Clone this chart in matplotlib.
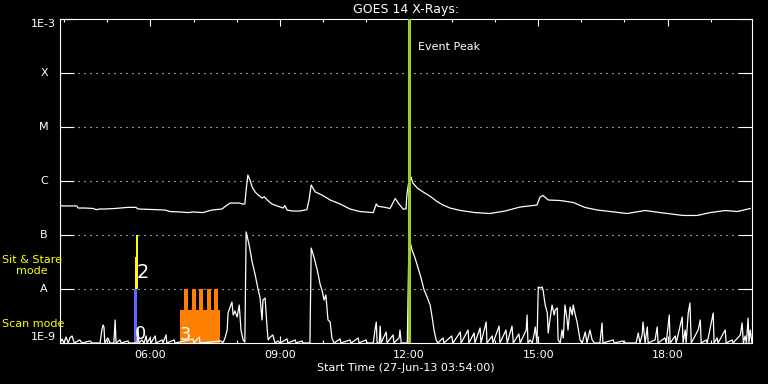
import matplotlib
matplotlib.use('Agg')
import matplotlib.pyplot as plt
import matplotlib.transforms as mtransforms
from matplotlib.ticker import NullLocator

# GOES 14 long channel (1-8 A): UT hours, flux in units of 1e-7 W/m^2
long_hours = [3.90, 3.95, 4.29, 4.32, 4.48, 4.67, 4.74, 4.83, 4.95, 5.18, 5.48, 5.66,
              5.71, 6.11, 6.34, 6.45, 6.69, 6.87, 6.99, 7.22, 7.34, 7.43, 7.66, 7.75,
              7.85, 8.06, 8.13, 8.19, 8.22, 8.26, 8.31, 8.36, 8.43, 8.50, 8.59, 8.64,
              8.71, 8.82, 8.94, 9.08, 9.12, 9.17, 9.29, 9.47, 9.63, 9.68, 9.73, 9.82,
              9.98, 10.17, 10.40, 10.63, 10.86, 11.17, 11.24, 11.28, 11.40, 11.56, 11.68,
              11.75, 11.86, 11.93, 11.95, 12.02, 12.09, 12.19, 12.33, 12.49, 12.65, 12.79,
              12.95, 13.19, 13.53, 13.88, 14.23, 14.58, 14.97, 15.04, 15.11, 15.23, 15.51,
              15.81, 16.09, 16.37, 16.67, 17.06, 17.48, 17.83, 18.36, 18.69, 18.99, 19.34,
              19.62, 19.92]
long_flux_e7 = [3.59, 3.45, 3.45, 3.16, 3.16, 3.10, 2.95, 3.03, 3.03, 3.10, 3.25, 3.25,
                3.03, 2.95, 2.90, 2.72, 2.67, 2.60, 2.67, 2.60, 2.78, 2.90, 3.03, 3.45,
                3.91, 3.91, 3.75, 3.75, 6.81, 12.9, 10.4, 7.74, 6.25, 5.50, 4.84, 5.10,
                4.45, 3.75, 3.45, 3.16, 3.50, 2.90, 2.78, 2.78, 2.95, 4.45, 8.43, 6.30,
                5.50, 4.45, 3.75, 3.03, 2.72, 2.60, 3.75, 3.40, 3.30, 3.10, 4.75,
                3.91, 3.03, 3.03, 5.50, 13.5, 9.18, 7.42, 6.25, 5.20, 4.17, 3.59,
                3.16, 2.85, 2.60, 2.50, 2.78, 3.30, 3.59, 5.05, 5.40, 4.45, 4.35,
                4.00, 3.23, 2.90, 2.72, 2.50, 2.84, 2.60, 2.30, 2.30, 2.60, 2.84,
                2.72, 3.10]

# GOES 14 short channel (0.5-4 A): UT hours, flux in units of 1e-9 W/m^2
short_hours = [3.90, 3.95, 3.99, 4.04, 4.09, 4.13, 4.18, 4.23, 4.36, 4.41, 4.60, 4.64,
               4.83, 4.87, 4.90, 4.92, 4.94, 5.01, 5.06, 5.15, 5.18, 5.20, 5.29, 5.32,
               5.48, 5.50, 5.69, 5.71, 5.73, 5.80, 5.85, 5.90, 5.92, 5.99, 6.01, 6.11,
               6.13, 6.27, 6.29, 6.36, 6.38, 6.55, 6.57, 6.99, 7.01, 7.13, 7.15, 7.64,
               7.68, 7.73, 7.78, 7.80, 7.85, 7.89, 7.92, 7.96, 8.01, 8.06, 8.10, 8.15,
               8.19, 8.22, 8.29, 8.36, 8.43, 8.50, 8.54, 8.59, 8.61, 8.66, 8.71, 8.73,
               8.78, 8.84, 8.89, 8.96, 9.01, 9.17, 9.19, 9.36, 9.38, 9.52, 9.54, 9.70,
               9.73, 9.80, 9.87, 9.94, 9.98, 10.03, 10.07, 10.12, 10.17, 10.21, 10.26,
               10.40, 10.42, 10.63, 10.66, 10.82, 10.84, 11.00, 11.03, 11.17, 11.21,
               11.24, 11.26, 11.31, 11.33, 11.35, 11.47, 11.49, 11.63, 11.65, 11.77,
               11.79, 11.82, 11.96, 12.00, 12.07, 12.14, 12.21, 12.28, 12.35, 12.42,
               12.49, 12.54, 12.58, 12.63, 12.67, 12.79, 12.81, 12.99, 13.02, 13.19,
               13.21, 13.37, 13.39, 13.51, 13.53, 13.65, 13.67, 13.79, 13.81, 13.93,
               13.95, 14.09, 14.11, 14.25, 14.28, 14.39, 14.42, 14.55, 14.58, 14.72,
               14.74, 14.76, 14.81, 14.86, 14.90, 14.93, 14.97, 15.00, 15.04, 15.09,
               15.11, 15.16, 15.21, 15.23, 15.27, 15.32, 15.37, 15.39, 15.44, 15.46,
               15.51, 15.55, 15.58, 15.62, 15.67, 15.69, 15.74, 15.79, 15.81, 15.86,
               15.90, 15.95, 15.97, 16.02, 16.09, 16.13, 16.20, 16.25, 16.30, 16.43,
               16.48, 16.50, 16.74, 16.76, 16.97, 16.99, 17.27, 17.32, 17.36, 17.41,
               17.43, 17.48, 17.53, 17.55, 17.71, 17.76, 17.78, 17.94, 17.97, 18.04,
               18.06, 18.18, 18.20, 18.34, 18.36, 18.41, 18.43, 18.48, 18.52, 18.55,
               18.71, 18.76, 18.78, 18.90, 18.92, 19.06, 19.08, 19.15, 19.17, 19.34,
               19.36, 19.50, 19.52, 19.69, 19.73, 19.76, 19.80, 19.83, 19.87, 19.89,
               19.92, 19.96]
short_flux_e9 = [1.0, 1.19, 1.0, 1.29, 1.0, 1.24, 1.35, 1.0, 1.14, 1.0, 1.09, 1.0,
                 1.0, 1.74, 2.15, 1.98, 1.0, 1.24, 1.0, 1.0, 2.67, 1.0, 1.14, 1.0,
                 1.09, 1.0, 1.0, 1.90, 1.0, 1.14, 1.0, 1.35, 1.0, 1.24, 1.0, 1.35,
                 1.0, 1.14, 1.0, 1.41, 1.0, 1.14, 1.0, 1.19, 1.0, 1.29, 1.0, 1.09,
                 1.0, 1.24, 1.74, 3.59, 4.64, 5.74, 3.30, 3.91, 3.03, 5.05, 1.74, 1.14,
                 1.04, 114.0, 65.2, 31.6, 18.2, 9.58, 7.11, 2.67, 6.25, 6.81, 1.74, 1.14,
                 1.29, 1.41, 1.0, 1.09, 1.0, 1.19, 1.0, 1.14, 1.0, 1.09, 1.0, 1.0,
                 57.4, 37.5, 22.5, 11.9, 9.58, 6.25, 7.74, 2.67, 2.45, 1.24, 1.0,
                 1.19, 1.0, 1.14, 1.0, 1.24, 1.0, 1.14, 1.0, 1.0, 1.74,
                 2.45, 1.0, 1.0, 2.06, 1.0, 1.60, 1.0, 1.41, 1.0, 1.24,
                 1.74, 1.0, 1.0, 91.8, 52.7, 37.5, 24.5, 15.9, 9.58, 7.11,
                 5.05, 2.90, 1.74, 1.14, 1.0, 1.24, 1.0, 1.35, 1.0, 1.60,
                 1.0, 1.74, 1.0, 1.53, 1.0, 1.90, 1.0, 2.45, 1.0, 1.35,
                 1.0, 2.06, 1.0, 1.74, 1.0, 2.06, 1.0, 1.47, 1.0, 1.74,
                 3.30, 1.0, 1.14, 1.0, 1.41, 1.98, 1.0, 10.9, 10.4, 10.9,
                 9.58, 5.05, 3.59, 1.53, 2.67, 5.05, 3.30, 4.08, 4.45, 1.14,
                 1.0, 1.74, 1.24, 5.05, 2.67, 1.74, 4.64, 3.30, 5.05, 3.30,
                 2.45, 1.41, 1.14, 1.0, 1.60, 1.0, 1.74, 1.14, 1.0, 1.0,
                 2.35, 1.0, 1.14, 1.0, 1.09, 1.0, 1.0, 1.53, 1.0, 1.41,
                 2.45, 1.0, 1.98, 1.0, 1.14, 1.98, 1.0, 1.24, 1.0, 3.30,
                 1.0, 1.35, 1.0, 3.03, 1.0, 1.74, 1.0, 3.59, 5.50, 1.0,
                 1.74, 2.67, 1.0, 1.14, 1.0, 3.59, 1.0, 1.24, 1.0, 1.74,
                 1.0, 1.14, 1.0, 1.41, 2.35, 1.0, 1.35, 1.0, 2.90, 1.0,
                 1.74, 1.0]

level_flux = [1e-9, 1e-8, 1e-7, 1e-6, 1e-5, 1e-4, 1e-3]
level_names = ['1E-9', 'A', 'B', 'C', 'M', 'X', '1E-3']
hour_ticks = [6, 9, 12, 15, 18]
hour_labels = ['06:00', '09:00', '12:00', '15:00', '18:00']
start_hour = 3.9
end_hour = 19.96
event_peak_hour = 12.0

# observing modes
scan_hour = 5.65
stare_hour = 5.69
raster_start = 6.69
raster_end = 7.61
raster_top = 4.1e-9
raster_prongs = [6.82, 7.00, 7.17, 7.35, 7.52]

long_flux = [v * 1e-7 for v in long_flux_e7]
short_flux = [v * 1e-9 for v in short_flux_e9]

fig = plt.figure(figsize=(7.68, 3.84), dpi=100, facecolor='black')
ax = fig.add_axes([60 / 768, 41 / 384, 692 / 768, 324 / 384])
ax.set_facecolor('black')
ax.set_yscale('log')
ax.set_xlim(start_hour, end_hour)
ax.set_ylim(1e-9, 1e-3)

# grid lines at flare classes
for lev in level_flux[1:-1]:
    ax.axhline(lev, color='white', lw=0.8, ls=(0, (1, 4.4)), zorder=1)

# scan / sit & stare markers
ax.bar(scan_hour, 1e-8 - 1e-9, bottom=1e-9, width=0.07, color='#6464ff', zorder=2)
ax.bar(stare_hour, 1e-7 - 1e-8, bottom=1e-8, width=0.046, color='yellow', zorder=2)
ax.bar(stare_hour - 0.02, 3.96e-8 - 1e-8, bottom=1e-8, width=0.07, color='yellow', zorder=2)
ax.bar((raster_start + raster_end) / 2, raster_top - 1e-9, bottom=1e-9,
       width=raster_end - raster_start, color='#ff8000', zorder=2)
for p in raster_prongs:
    ax.bar(p, 1e-8 - 1e-9, bottom=1e-9, width=0.093, color='#ff8000', zorder=2)

ax.plot(long_hours, long_flux, color='white', lw=0.9, zorder=3)
ax.plot(short_hours, short_flux, color='white', lw=0.9, zorder=3)

ax.axvline(event_peak_hour, color='#9acd32', lw=2.2, zorder=4)
ax.text(event_peak_hour + 0.22, 3.0e-4, 'Event Peak', color='white', fontsize=8,
        va='center', ha='left')

num_font = ['Liberation Sans Narrow', 'DejaVu Sans']
ax.text(5.76, 1.45e-9, '0', color='white', fontsize=13, family=num_font,
        ha='center', va='center', zorder=5)
ax.text(5.83, 2.0e-8, '2', color='white', fontsize=14, family=num_font,
        ha='center', va='center', zorder=5)
ax.text(6.82, 1.4e-9, '3', color='white', fontsize=13, family=num_font,
        ha='center', va='center', zorder=5)

# axes styling
for s in ax.spines.values():
    s.set_color('white')
    s.set_linewidth(0.8)

ax.set_yticks(level_flux)
ax.set_yticklabels([])
ax.yaxis.set_minor_locator(NullLocator())
ax.tick_params(axis='y', which='major', direction='in', length=10, width=0.8,
               color='white', left=True, right=True)

ax.set_xticks(hour_ticks)
ax.set_xticklabels(hour_labels)
ax.set_xticks(range(4, 20), minor=True)
ax.tick_params(axis='x', which='major', direction='in', length=5, width=0.8,
               colors='white', top=True, labelsize=8, pad=5)
ax.tick_params(axis='x', which='minor', direction='in', length=2.5, width=0.8,
               color='white', top=True)

trans = mtransforms.blended_transform_factory(ax.transAxes, ax.transData)
for lev, name in zip(level_flux, level_names):
    if name == '1E-9':
        ax.text(-0.006, lev * 1.04, name, transform=trans, color='white', fontsize=8,
                ha='right', va='bottom')
    elif name == '1E-3':
        ax.text(-0.006, lev, name, transform=trans, color='white', fontsize=8,
                ha='right', va='top')
    else:
        ax.text(-0.023, lev, name, transform=trans, color='white', fontsize=8,
                ha='center', va='center')

ax.text(-0.084, 2.75e-8, 'Sit & Stare\nmode', transform=trans, color='yellow',
        fontsize=8, ha='left', va='center', multialignment='center', linespacing=1.15)
ax.text(-0.084, 2.25e-9, 'Scan mode', transform=trans, color='yellow',
        fontsize=8, ha='left', va='center')

ax.set_title('GOES 14 X-Rays:', color='white', fontsize=9, pad=4.5)
ax.set_xlabel('Start Time (27-Jun-13 03:54:00)', color='white', fontsize=8, labelpad=2)

fig.savefig('out.png', dpi=100, facecolor='black')
